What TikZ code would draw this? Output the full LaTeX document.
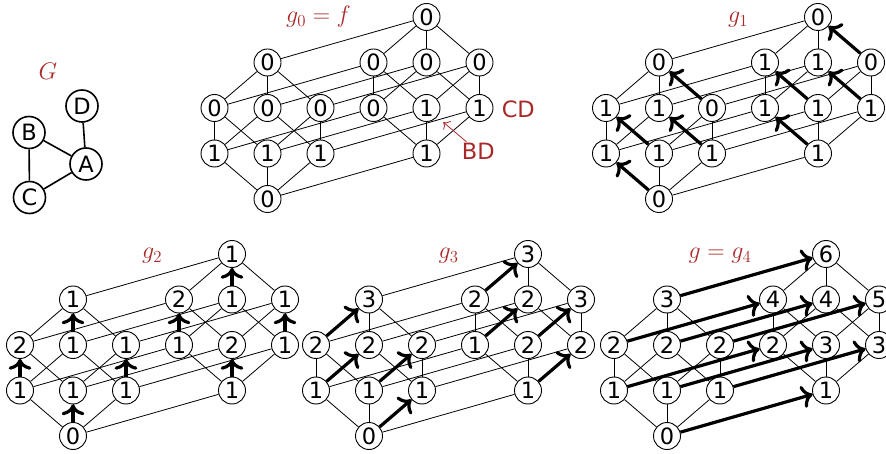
\RequirePackage{fix-cm}
\documentclass[tikz,border=0pt]{standalone}
\usepackage{fontspec}
\setsansfont{DejaVu Sans}
\usetikzlibrary{arrows.meta,backgrounds}
\definecolor{lblred}{RGB}{170,40,40}
\newcommand\hh{45.5}
\tikzset{
  vtx/.style={circle,draw,line width=0.9pt,fill=white,minimum size=27pt,inner sep=0pt,font=\sffamily\fontsize{22.5}{22.5}\selectfont},
  gvtx/.style={circle,draw,line width=1.6pt,fill=white,minimum size=32pt,inner sep=0pt,font=\sffamily\fontsize{22.5}{22.5}\selectfont},
  gedge/.style={line width=1.6pt},
  hedge/.style={line width=0.8pt},
  flow/.style={line width=3.2pt,-{To[scale=1.25]}},
  redarr/.style={draw=lblred,line width=0.8pt,-{To[scale=1.6]},shorten >=8pt,shorten <=1pt},
  mlabel/.style={text=lblred,font=\fontsize{24}{24}\selectfont,anchor=base,inner sep=0pt},
  slabel/.style={text=lblred,font=\sffamily\fontsize{22.5}{22.5}\selectfont,anchor=base,inner sep=1pt},
}
\def\Aedges{e/a, b/ab, c/ac, bc/abc, d/ad, bd/abd, cd/acd, bcd/abcd}
\def\Bedges{e/b, a/ab, c/bc, ac/abc, d/bd, ad/abd, cd/bcd, acd/abcd}
\def\Cedges{e/c, a/ac, b/bc, ab/abc, d/cd, ad/acd, bd/bcd, abd/abcd}
\def\Dedges{e/d, a/ad, b/bd, c/cd, ab/abd, ac/acd, bc/bcd, abc/abcd}
\edef\Alledges{\Aedges, \Bedges, \Cedges, \Dedges}
% prefix, x, y of bottom node, 16 values
\newcommand\lattice[4]{%
  \begin{scope}[shift={(#2,#3)}]
  \foreach \n/\px/\py [count=\i] in {e/0/0, a/-53/-1, b/0/-1, c/53/-1, ab/-53/-2, ac/0/-2, bc/53/-2, abc/0/-3, d/159/-1, ad/106/-2, bd/159/-2, cd/212/-2, abd/106/-3, acd/159/-3, bcd/212/-3, abcd/159/-4}{
    \pgfmathtruncatemacro\val{{#4}[\i-1]}
    \node[vtx] (#1\n) at (\px,\py*\hh) {\val};
  }
  \end{scope}
  \begin{scope}[on background layer]
  \foreach \s/\t in \Alledges {\draw[hedge] (#1\s) -- (#1\t);}
  \end{scope}
}
\newcommand\flows[2]{\foreach \s/\t in #2 {\draw[flow] (#1\s) -- (#1\t);}}
\begin{document}
\begin{tikzpicture}[x=1pt,y=-1pt]
\useasboundingbox (0,0) rectangle (886,454);
\clip (0,0) rectangle (886,454);
% graph G
\node[mlabel] (LG) at (48,80) {$G$};
\node[gvtx] (D) at (82,106) {D};
\node[gvtx] (B) at (29,132.5) {B};
\node[gvtx] (A) at (86,164) {A};
\node[gvtx] (C) at (29.5,197.5) {C};
\draw[gedge] (D) -- (A);
\draw[gedge] (B) -- (A);
\draw[gedge] (B) -- (C);
\draw[gedge] (C) -- (A);
% lattices
\lattice{ga}{267.5}{199}{0,1,1,1,0,0,0,0,1,0,1,1,0,0,0,0}
\lattice{gb}{659}{199}{0,1,1,1,1,1,0,0,1,1,1,1,1,1,0,0}
\lattice{gc}{73}{436}{0,1,1,1,2,1,1,1,1,1,2,1,2,1,1,1}
\lattice{gd}{369}{436}{0,1,1,1,2,2,2,3,1,1,2,2,2,2,3,3}
\lattice{ge}{667}{436}{0,1,1,1,2,2,2,3,1,2,3,3,4,4,5,6}
\flows{gb}{\Aedges}
\flows{gc}{\Bedges}
\flows{gd}{\Cedges}
\flows{ge}{\Dedges}
% labels
\node[mlabel] (L0) at (318.5,23) {$g_0 = f$};
\node[mlabel] (L1) at (738,23) {$g_1$};
\node[mlabel] (L2) at (152,259) {$g_2$};
\node[mlabel] (L3) at (448.5,259) {$g_3$};
\node[mlabel] (L4) at (720,258.5) {$g = g_4$};
\node[slabel] (CDl) at (518.3,117.3) {CD};
\node[slabel] (BDl) at (478.3,160) {BD};
\draw[redarr] (BDl) -- (gabd);
\end{tikzpicture}
\end{document}
